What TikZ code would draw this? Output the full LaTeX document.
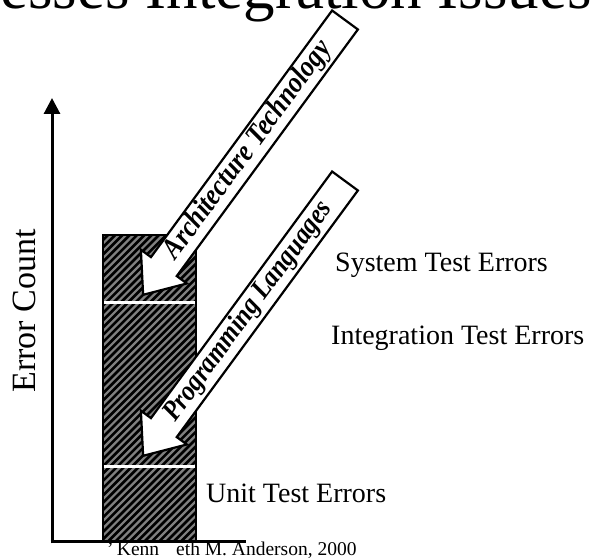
\documentclass[tikz,border=0pt]{standalone}
\usepackage{fontspec}
\setmainfont{Liberation Serif}
\usetikzlibrary{arrows.meta}
\tikzset{
  axisline/.style={line width=3pt},
  blockarrow/.style={draw=black, fill=white, line width=2.2pt, line join=miter},
  arrowtext/.style={font=\bfseries\itshape, inner sep=0pt, anchor=base},
  label/.style={inner sep=0pt, anchor=base west},
  hatchline/.style={draw=gray, line width=2.2pt},
}
\newcommand{\px}[1]{\fontsize{#1}{#1}\selectfont}
\begin{document}
\begin{tikzpicture}[x=1pt,y=1pt]
\useasboundingbox (0,0) rectangle (595,559);
% title (cut off)
\node[inner sep=0pt, anchor=base east] (title) at (592,550) {\px{63}esses Integration Issues};
% bar
\coordinate (barSW) at (103,17);
\coordinate (barNE) at (196,324);
\fill[black] (barSW) rectangle (barNE);
\begin{scope}
  \clip (barSW) rectangle (barNE);
  \foreach \i in {-320,-312.7,...,110} {
    \draw[hatchline] (103+\i,10) -- ++(420,420);
  }
\end{scope}
\draw[line width=2pt] (barSW) rectangle (barNE);
\draw[white, line width=3pt] (104,256) -- (195,256);
\draw[white, line width=3pt] (104,92) -- (195,92);
% axes
\coordinate (origin) at (52,17);
\coordinate (ytop) at (52,461);
\coordinate (xend) at (246,17);
\draw[axisline, -{Triangle[length=16pt,width=16pt]}] (52,15.5) -- (ytop);
\draw[axisline] (50.5,17) -- (xend);
% block arrows
\begin{scope}[shift={(345,539)}, rotate=233.7]
  \draw[blockarrow] (0,16) -- (306,16) -- (306,28.5) -- (341,0) -- (306,-28.5) -- (306,-16) -- (0,-16) -- cycle;
\end{scope}
\begin{scope}[shift={(345,378)}, rotate=233.7]
  \draw[blockarrow] (0,16) -- (306,16) -- (306,28.5) -- (341,0) -- (306,-28.5) -- (306,-16) -- (0,-16) -- cycle;
\end{scope}
\node[arrowtext, rotate=53.7] (arch) at (253.9,404.3) {\scalebox{0.88}[1]{\px{29.5}Architecture Technology}};
\node[arrowtext, rotate=53.7] (prog) at (253.9,243.3) {\scalebox{0.88}[1]{\px{28.5}Programming Languages}};
% labels
\node[label] (sys) at (335,287) {\px{28}System Test Errors};
\node[label] (integ) at (331,214) {\px{28}Integration Test Errors};
\node[label] (unit) at (206,56) {\px{28}Unit Test Errors};
\node[inner sep=0pt, rotate=90] (ylab) at (24.5,248) {\px{34}Error Count};
\node[label] (foot) at (107,3) {\px{19.5}'\,Kenn\hspace{17pt}eth M. Anderson, 2000};
\end{tikzpicture}
\end{document}
